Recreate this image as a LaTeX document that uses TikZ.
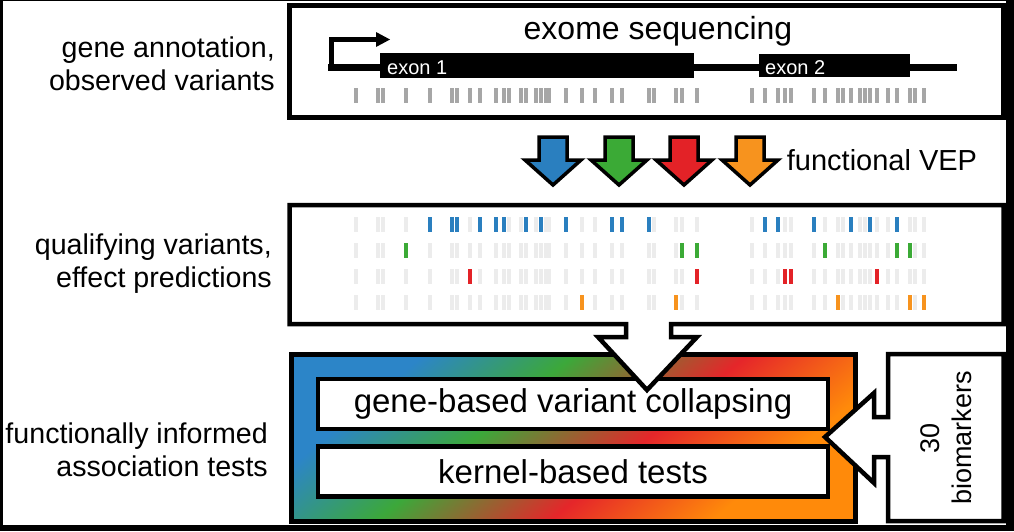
\documentclass[tikz,border=0pt]{standalone}
\usepackage{fontspec}
\setmainfont{Liberation Sans}
\definecolor{vblue}{HTML}{2A7FBF}
\definecolor{vgreen}{HTML}{3BAA36}
\definecolor{vred}{HTML}{E32227}
\definecolor{vorange}{HTML}{F7931E}
\definecolor{tickgray}{HTML}{A6A6A6}
\definecolor{ticklight}{HTML}{ECECEC}
\definecolor{gblue}{HTML}{2C85C8}
\definecolor{ggreen}{HTML}{3CA83A}
\definecolor{gred}{HTML}{E5262A}
\definecolor{gorange}{HTML}{FF8A0A}
\pgfdeclarehorizontalshading{vepgrad}{100bp}{color(0bp)=(gblue); color(27bp)=(gblue); color(41bp)=(ggreen); color(57bp)=(gred); color(72bp)=(gorange); color(100bp)=(gorange)}
\begin{document}
\begin{tikzpicture}[x=1pt,y=-1pt,
  box/.style={draw=black,line width=5pt},
  innerbox/.style={draw=black,fill=white,line width=4.5pt,minimum width=510pt,minimum height=50pt,inner sep=0pt,font=\fontsize{33}{36}\selectfont},
  blockarrow/.style={draw=black,line width=3.5pt,line join=miter},
  sidelabel/.style={anchor=east,align=right,inner sep=0pt,font=\fontsize{28.6}{33}\selectfont},
  exonlabel/.style={anchor=base west,inner sep=0pt,text=white,font=\fontsize{20}{24}\selectfont}]
\useasboundingbox (0,0) rectangle (1014,531);
\fill[black] (0,0) rectangle (1014,531);
\fill[white] (3,1) rectangle (1006,525);

% left labels
\node[sidelabel] (l1) at (275,64) {gene annotation,\\observed variants};
\node[sidelabel] (l2) at (272,264) {qualifying variants,\\effect predictions};
\node[sidelabel] (l3) at (268,450) {functionally informed\\association tests};

% top box
\draw[box] (289.5,5) rectangle (1003.5,117.5);
\node[font=\fontsize{32}{36}\selectfont,inner sep=0pt] (exome) at (658,31) {exome sequencing};
% gene model
\fill[black] (328,63.5) rectangle (957,70.5);
\fill[black] (380,53) rectangle (694,78);
\fill[black] (759,54) rectangle (910,77);
\draw[line width=5pt,line join=miter] (331,70) -- (331,39.5) -- (378,39.5);
\fill[black] (376,32) -- (390,39.5) -- (376,47) -- cycle;
\node[exonlabel] (e1) at (387,74.5) {exon 1};
\node[exonlabel] (e2) at (765,74.5) {exon 2};
\foreach \x in {356,378,383,406,430,452,457,470,480,496,504,509,521,526,536,541,546,549,566,582,595,612,622,649,654,676,682,697,752,765,778,785,791,814,825,838,843,851,860,865,870,877,888,897,910,915,924}
  \fill[tickgray] (\x-1.6,88) rectangle (\x+1.6,103);

% VEP arrows
\foreach \cx/\col in {553/vblue,619/vgreen,684/vred,750/vorange}
  \filldraw[blockarrow,fill=\col] (\cx-14,137) -- (\cx+14,137) -- (\cx+14,160) -- (\cx+28,160) -- (\cx,185) -- (\cx-28,160) -- (\cx-14,160) -- cycle;
\node[font=\fontsize{29}{33}\selectfont,inner sep=0pt] (vep) at (882,160) {functional VEP};

% gradient box
\shade[shading=vepgrad,shading angle=-50] (291,354) rectangle (855,521);
\draw[box] (291,354) rectangle (855,521);
\node[innerbox] (collapse) at (573,404) {gene-based variant collapsing};
\node[innerbox] (kernel) at (573,471.5) {kernel-based tests};

% biomarkers box with arrow
\filldraw[box,fill=white,line width=4.5pt,line join=miter] (1003.5,354) -- (1003.5,521) -- (888,521) -- (888,457) -- (874,457) -- (874,483) -- (825,437) -- (874,393) -- (874,417) -- (888,417) -- (888,354) -- cycle;
\node[rotate=90,align=center,inner sep=0pt,font=\fontsize{27}{32}\selectfont] (bio) at (946,438) {30\\biomarkers};

% box 2 with big arrow
\filldraw[box,fill=white,line width=4.5pt,line join=miter] (289.5,205) -- (1003.5,205) -- (1003.5,324) -- (671,324) -- (671,337) -- (697,337) -- (647,390) -- (598,337) -- (626,337) -- (626,324) -- (289.5,324) -- cycle;
\foreach \y in {224,250,276,302}
  \foreach \x in {356,378,383,406,430,452,457,470,480,496,504,509,521,526,536,541,546,549,566,582,595,612,622,649,654,676,682,697,752,765,778,785,791,814,825,838,843,851,860,865,870,877,888,897,910,915,924}
    \fill[ticklight] (\x-1.6,\y-7.5) rectangle (\x+1.6,\y+7.5);
\foreach \x in {430,452,457,480,496,504,526,541,566,612,622,649,765,778,814,851,870,897}
  \fill[vblue] (\x-1.8,216.5) rectangle (\x+1.8,231.5);
\foreach \x in {406,682,697,825,897,910}
  \fill[vgreen] (\x-1.8,242.5) rectangle (\x+1.8,257.5);
\foreach \x in {470,697,785,791,877}
  \fill[vred] (\x-1.8,268.5) rectangle (\x+1.8,283.5);
\foreach \x in {582,676,838,910,924}
  \fill[vorange] (\x-1.8,294.5) rectangle (\x+1.8,309.5);
\end{tikzpicture}
\end{document}
